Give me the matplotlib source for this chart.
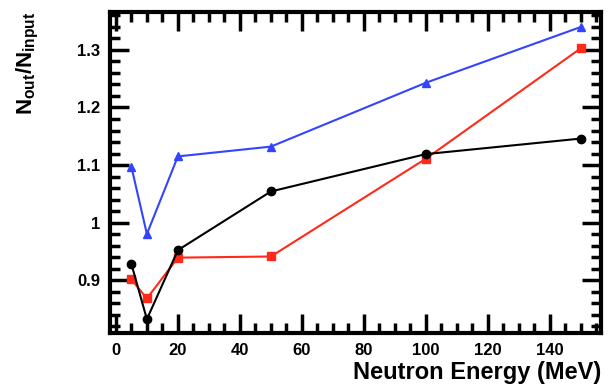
import matplotlib
matplotlib.use('Agg')
import matplotlib.pyplot as plt
from matplotlib.ticker import MultipleLocator

plt.rcParams['font.family'] = ['Liberation Sans', 'DejaVu Sans']
plt.rcParams['font.weight'] = 'bold'
plt.rcParams['mathtext.fontset'] = 'custom'
plt.rcParams['mathtext.rm'] = 'Liberation Sans:bold'
plt.rcParams['mathtext.bf'] = 'Liberation Sans:bold'
plt.rcParams['mathtext.it'] = 'Liberation Sans:bold'

# energies (MeV)
energy = [5, 10, 20, 50, 100, 150]
# three series of N_out/N_input
ratio_blue = [1.097, 0.980, 1.115, 1.132, 1.243, 1.340]
ratio_red = [0.901, 0.868, 0.939, 0.941, 1.111, 1.303]
ratio_black = [0.928, 0.832, 0.952, 1.054, 1.119, 1.146]

xticks = [0, 20, 40, 60, 80, 100, 120, 140]
yticks = [0.9, 1.0, 1.1, 1.2, 1.3]
ytick_labels = ['0.9', '1', '1.1', '1.2', '1.3']

fig = plt.figure(figsize=(6.10, 3.86), dpi=100)
ax = fig.add_axes([110/610, 1 - 333/386, 491/610, 321/386])

ax.plot(energy, ratio_blue, color='#3344ff', lw=1.5, marker='^', ms=6, mec='#3344ff')
ax.plot(energy, ratio_red, color='#ff2a1a', lw=1.5, marker='s', ms=6, mec='#ff2a1a')
ax.plot(energy, ratio_black, color='black', lw=1.5, marker='o', ms=6)

ax.set_xlim(-1.9, 156.5)
ax.set_ylim(0.808, 1.366)

ax.set_xticks(xticks)
ax.set_yticks(yticks)
ax.set_yticklabels(ytick_labels)
ax.xaxis.set_minor_locator(MultipleLocator(5))
ax.yaxis.set_minor_locator(MultipleLocator(0.02))

ax.tick_params(which='both', direction='in', top=True, right=True, width=2.5,
               labelsize=12)
ax.tick_params(which='major', length=14, pad=7)
ax.tick_params(which='minor', length=7)
for s in ax.spines.values():
    s.set_linewidth(3)

fig.text(601/610, 1 - 372/386, 'Neutron Energy (MeV)', ha='right', va='center',
         fontsize=17, fontweight='bold')
fig.text(28/610, 1 - 12/386, r'$\mathbf{N_{out}/N_{input}}$', rotation=90,
         ha='center', va='top', fontsize=16)

fig.savefig('out.png', dpi=100)
